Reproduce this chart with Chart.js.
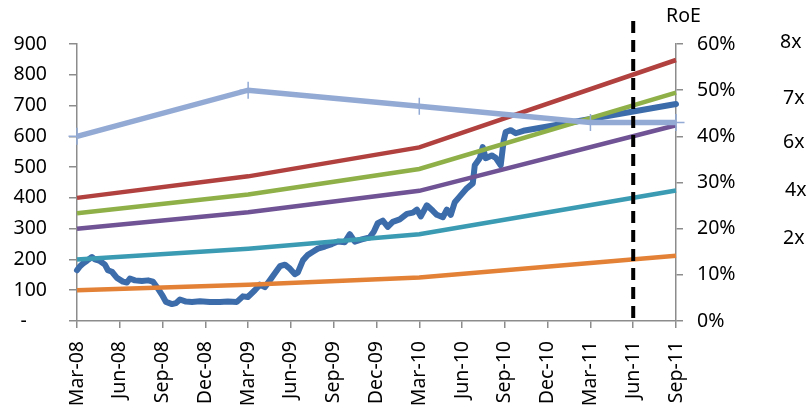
<!DOCTYPE html>
<html>
<head>
<meta charset="utf-8">
<script src="https://cdn.jsdelivr.net/npm/chart.js@4/dist/chart.umd.min.js"></script>
<style>
  html, body { margin: 0; padding: 0; background: #fff; }
  #wrap { width: 809px; height: 415px; }
</style>
</head>
<body>
<div id="wrap"><canvas id="c" width="809" height="415"></canvas></div>
<script>
// Quarter labels on the time axis (one every 3 months from Mar-08)
const quarterLabels = ['Mar-08','Jun-08','Sep-08','Dec-08','Mar-09','Jun-09','Sep-09',
  'Dec-09','Mar-10','Jun-10','Sep-10','Dec-10','Mar-11','Jun-11','Sep-11'];

// Months after March 2008 at which book-value bands / RoE are known
const bandMonths = [0, 12, 24, 42];
const band8x = [400, 470, 564, 848];
const band7x = [350, 411, 494, 742];
const band6x = [300, 353, 423, 636];
const band4x = [200, 235, 282, 424];
const band2x = [100, 118, 141, 212];

const roeMonths = [0, 12, 24, 36, 42];
const roeValues = [40, 50, 46.5, 43, 43];   // per cent

// Share price (months after March 2008, price); last point is the Sep-11 target
const priceMonths = [0.00,0.21,0.42,0.70,1.05,1.26,1.61,1.96,2.17,2.45,2.80,3.22,3.50,3.71,4.06,
  4.55,4.98,5.33,5.68,5.96,6.24,6.66,6.94,7.22,7.64,8.06,8.62,9.32,10.02,10.58,11.21,11.63,11.98,
  12.47,12.82,13.17,13.52,13.95,14.23,14.58,14.93,15.28,15.49,15.84,16.19,16.54,16.89,17.38,17.87,
  18.29,18.78,19.13,19.48,19.97,20.53,20.81,21.09,21.44,21.79,22.14,22.63,23.13,23.55,23.83,24.11,
  24.53,24.95,25.23,25.65,25.93,26.21,26.49,26.84,27.33,27.75,27.89,28.24,28.45,28.66,29.08,29.36,
  29.71,29.92,30.06,30.41,30.76,31.30,42];
const priceValues = [165,178,187,196,208,200,195,183,165,160,140,128,125,138,132,
  130,132,128,105,85,62,55,58,70,63,62,64,62,62,63,62,80,78,
  100,118,110,132,160,178,183,170,152,158,197,215,225,235,242,250,
  258,256,282,258,265,272,290,318,326,306,322,330,348,352,362,340,
  376,358,345,337,362,345,386,405,431,447,506,529,565,529,538,530,
  506,587,614,620,610,618,705];

// Multiple labels shown beside the RoE axis
const multipleLabels = ['8x','7x','6x','4x','2x'];
const forecastMonth = 39;   // Jun-11

const FONT = 'Noto Sans';
const toXY = (xs, ys) => xs.map((x, i) => ({ x, y: ys[i] }));

const bandStyle = (color) => ({
  borderColor: color, backgroundColor: color, borderWidth: 4.5,
  pointRadius: 0, tension: 0, yAxisID: 'y', clip: false, borderCapStyle: 'butt'
});

const overlay = {
  id: 'overlay',
  afterDatasetsDraw(chart) {
    const { ctx, chartArea, scales } = chart;
    const x = scales.x.getPixelForValue(forecastMonth);
    ctx.save();
    ctx.strokeStyle = '#000';
    ctx.lineWidth = 4;
    ctx.setLineDash([12, 7]);
    ctx.beginPath();
    ctx.moveTo(x, chartArea.top - 23);
    ctx.lineTo(x, chartArea.bottom + 1);
    ctx.stroke();
    ctx.restore();
  },
  afterDraw(chart) {
    const { ctx, chartArea } = chart;
    ctx.save();
    ctx.fillStyle = '#000';
    ctx.font = '19.5px "' + FONT + '"';
    ctx.textBaseline = 'middle';
    ctx.textAlign = 'left';
    ctx.fillText('RoE', chartArea.right - 10, chartArea.top - 28);
    const offs = [[104, -2], [107, 54], [107, 98], [109, 146], [107, 194]];
    multipleLabels.forEach((t, i) => {
      ctx.fillText(t, chartArea.right + offs[i][0], chartArea.top + offs[i][1]);
    });
    ctx.restore();
  }
};

new Chart(document.getElementById('c'), {
  type: 'line',
  data: {
    datasets: [
      {
        label: 'RoE', data: toXY(roeMonths, roeValues), yAxisID: 'y1',
        borderColor: '#93AAD5', backgroundColor: '#93AAD5', borderWidth: 5.5,
        pointStyle: 'cross', pointRadius: 8.5, pointBorderWidth: 1.5,
        pointBorderColor: '#93AAD5', tension: 0, clip: false
      },
      Object.assign({ label: '8x', data: toXY(bandMonths, band8x) }, bandStyle('#B0413E')),
      Object.assign({ label: '7x', data: toXY(bandMonths, band7x) }, bandStyle('#8FB048')),
      Object.assign({ label: '6x', data: toXY(bandMonths, band6x) }, bandStyle('#6F5394')),
      Object.assign({ label: '4x', data: toXY(bandMonths, band4x) }, bandStyle('#3A9BB3')),
      Object.assign({ label: '2x', data: toXY(bandMonths, band2x) }, bandStyle('#E38136')),
      {
        label: 'Price', data: toXY(priceMonths, priceValues), yAxisID: 'y',
        borderColor: '#3D6CAB', backgroundColor: '#3D6CAB', borderWidth: 6,
        pointRadius: 0, tension: 0, clip: false, borderJoinStyle: 'round', borderCapStyle: 'round'
      }
    ]
  },
  options: {
    responsive: false,
    animation: false,
    devicePixelRatio: 1,
    layout: { padding: { top: 44, left: 0, right: 0, bottom: 0 } },
    plugins: { legend: { display: false }, tooltip: { enabled: false } },
    scales: {
      x: {
        type: 'linear', min: 0, max: 42,
        afterFit(s) { s.height = 94; },
        afterBuildTicks(s) { s.ticks = quarterLabels.map((_, i) => ({ value: i * 3 })); },
        ticks: {
          stepSize: 3, minRotation: 90, maxRotation: 90, padding: 13, color: '#000',
          font: { family: FONT, size: 19.5 },
          callback: (v) => quarterLabels[Math.round(v / 3)]
        },
        grid: { drawOnChartArea: false, drawTicks: true, tickLength: 7, color: '#8C8C8C', lineWidth: 1.5 },
        border: { color: '#8C8C8C', width: 1.5 }
      },
      y: {
        position: 'left', min: 0, max: 900,
        afterFit(s) { s.width = 77; },
        ticks: {
          stepSize: 100, padding: 22, color: '#000',
          font: { family: FONT, size: 19.5 },
          callback: (v) => v === 0 ? '-    ' : String(v)
        },
        grid: { drawOnChartArea: false, drawTicks: true, tickLength: 8, color: '#8C8C8C', lineWidth: 1.5 },
        border: { color: '#8C8C8C', width: 1.5 }
      },
      y1: {
        position: 'right', min: 0, max: 60,
        afterFit(s) { s.width = 133; },
        ticks: {
          stepSize: 10, padding: 14, color: '#000',
          font: { family: FONT, size: 19.5 },
          callback: (v) => v + '%'
        },
        grid: { drawOnChartArea: false, drawTicks: true, tickLength: 7, color: '#8C8C8C', lineWidth: 1.5 },
        border: { color: '#8C8C8C', width: 1.5 }
      }
    }
  },
  plugins: [overlay]
});
</script>
</body>
</html>
